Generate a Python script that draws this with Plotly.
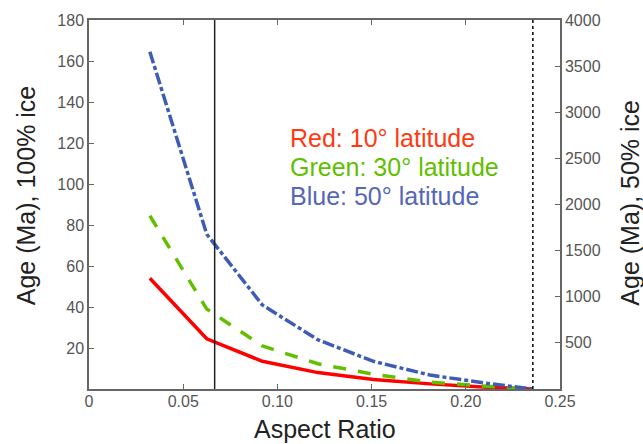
import plotly.graph_objects as go

# Aspect ratio samples and model ages (Ma, 100% ice) for three latitudes
aspect_ratio = [0.0323, 0.0625, 0.0920, 0.1215, 0.1510, 0.1810, 0.2110, 0.2356]
age_lat10 = [54.0, 24.5, 13.5, 8.0, 4.6, 2.5, 0.9, 0.0]
age_lat30 = [84.5, 39.0, 21.0, 12.3, 7.2, 3.4, 1.3, 0.0]
age_lat50 = [164.5, 75.5, 41.0, 24.0, 13.5, 6.8, 2.8, 0.0]

# Reference aspect ratios marked by vertical lines
marker_solid = 0.0667
marker_dotted = 0.2356

x_ticks = [0, 0.05, 0.10, 0.15, 0.20, 0.25]
x_tick_text = ["0", "0.05", "0.10", "0.15", "0.20", "0.25"]
y_ticks = [20, 40, 60, 80, 100, 120, 140, 160, 180]
y2_ticks = [500, 1000, 1500, 2000, 2500, 3000, 3500, 4000]

legend_lines = ["Red: 10° latitude", "Green: 30° latitude", "Blue: 50° latitude"]
legend_colors = ["#ff3a12", "#5fbf00", "#5566bb"]

FONT = "Liberation Sans, Arial, Helvetica, sans-serif"
AXIS_COLOR = "#666666"
TICK_FONT = dict(family=FONT, size=16, color="#555555")
TITLE_FONT = dict(family=FONT, size=25, color="#222222")

fig = go.Figure()

fig.add_trace(go.Scatter(x=aspect_ratio, y=age_lat10, mode="lines",
                         line=dict(color="#ff0000", width=3.5)))
fig.add_trace(go.Scatter(x=aspect_ratio, y=age_lat30, mode="lines",
                         line=dict(color="#62bf00", width=3.5, dash="13px,12px")))
fig.add_trace(go.Scatter(x=aspect_ratio, y=age_lat50, mode="lines",
                         line=dict(color="#3f5cb4", width=3.5, dash="12px,3px,4px,3px")))
# empty trace so the right-hand axis is attached to the plot
fig.add_trace(go.Scatter(x=[None], y=[None], yaxis="y2", showlegend=False, hoverinfo="skip"))

fig.add_shape(type="line", x0=marker_solid, x1=marker_solid, y0=0, y1=1,
              xref="x", yref="paper", line=dict(color="#222222", width=1.5))
fig.add_shape(type="line", x0=marker_dotted, x1=marker_dotted, y0=0, y1=1,
              xref="x", yref="paper", line=dict(color="#111111", width=1.6, dash="3px,3px"))

legend_y = [0.680, 0.602, 0.523]
for text, color, yy in zip(legend_lines, legend_colors, legend_y):
    fig.add_annotation(text=text, x=0.1057, y=yy, xref="x", yref="paper",
                       xanchor="left", yanchor="middle", showarrow=False,
                       font=dict(family=FONT, size=25, color=color))

# Axis titles, placed in pixels relative to the plot frame
fig.add_annotation(text="Age (Ma), 100% ice", x=0, y=0.525, xref="paper", yref="paper",
                   xanchor="center", yanchor="middle", xshift=-63,
                   showarrow=False, textangle=-90, font=TITLE_FONT)
fig.add_annotation(text="Age (Ma), 50% ice", x=1, y=0.505, xref="paper", yref="paper",
                   xanchor="center", yanchor="middle", xshift=70,
                   showarrow=False, textangle=-90, font=TITLE_FONT)
fig.add_annotation(text="Aspect Ratio", x=0.5, y=0, xref="paper", yref="paper",
                   xanchor="center", yanchor="middle", yshift=-40,
                   showarrow=False, font=TITLE_FONT)

fig.update_layout(
    width=643, height=444,
    margin=dict(l=89, r=83, t=17, b=55),
    paper_bgcolor="white", plot_bgcolor="white",
    showlegend=False,
    xaxis=dict(range=[0, 0.25], tickvals=x_ticks, ticktext=x_tick_text,
               ticks="inside", ticklen=5, tickcolor=AXIS_COLOR, tickwidth=1,
               showline=True, linecolor=AXIS_COLOR, linewidth=1.5, mirror="ticks",
               showgrid=False, zeroline=False, tickfont=TICK_FONT,
               ticklabelstandoff=-3),
    yaxis=dict(range=[0, 180], tickvals=y_ticks,
               ticks="inside", ticklen=5, tickcolor=AXIS_COLOR, tickwidth=1,
               showline=True, linecolor=AXIS_COLOR, linewidth=1.5,
               showgrid=False, zeroline=False, tickfont=TICK_FONT),
    yaxis2=dict(range=[0, 4000], tickvals=y2_ticks, overlaying="y", side="right",
                ticks="inside", ticklen=5, tickcolor=AXIS_COLOR, tickwidth=1,
                showline=True, linecolor=AXIS_COLOR, linewidth=1.5,
                showgrid=False, zeroline=False, tickfont=TICK_FONT),
)

fig.write_html("out.html")
